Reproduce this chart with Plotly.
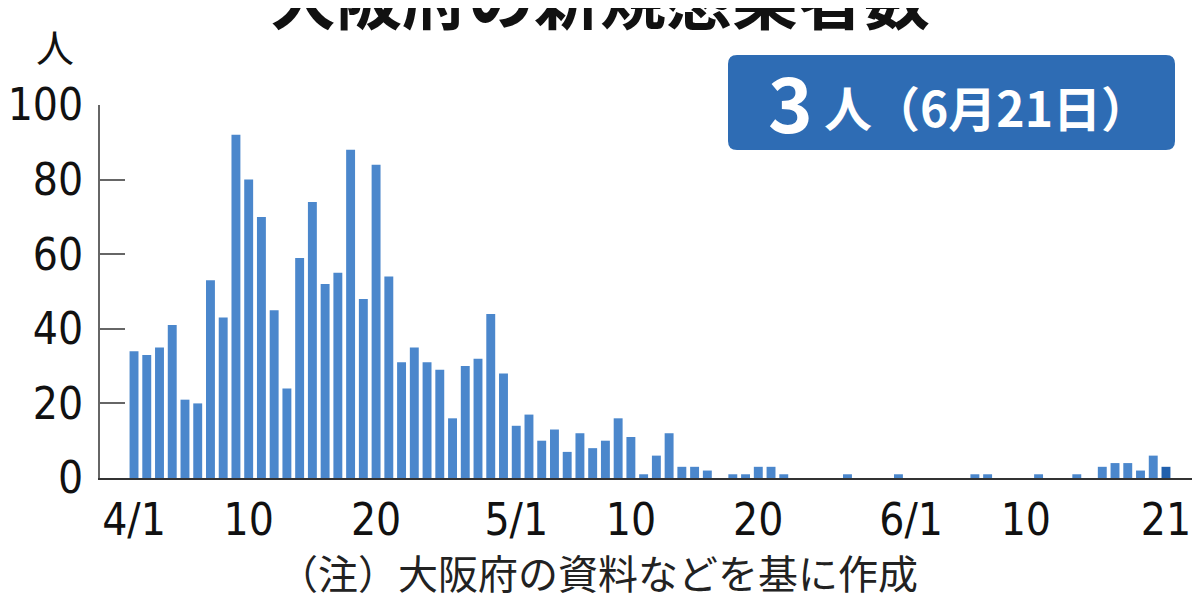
import pandas as pd
import plotly.graph_objects as go

# ---- data ----
april = [34, 33, 35, 41, 21, 20, 53, 43, 92, 80, 70, 45, 24, 59, 74, 52, 55, 88, 48, 84,
         54, 31, 35, 31, 29, 16, 30, 32, 44, 28]
may = [14, 17, 10, 13, 7, 12, 8, 10, 16, 11, 1, 6, 12, 3, 3, 2, 0, 1, 1, 3,
       3, 1, 0, 0, 0, 0, 1, 0, 0, 0, 1]
june = [0, 0, 0, 0, 0, 1, 1, 0, 0, 0, 1, 0, 0, 1, 0, 3, 4, 4, 2, 6, 3]
cases = april + may + june
dates = pd.date_range("2020-04-01", periods=len(cases), freq="D")

tick_dates = ["2020-04-01", "2020-04-10", "2020-04-20", "2020-05-01", "2020-05-10",
              "2020-05-20", "2020-06-01", "2020-06-10", "2020-06-21"]
tick_text = ["4/1", "10", "20", "5/1", "10", "20", "6/1", "10", "21"]
y_ticks = [0, 20, 40, 60, 80, 100]

title_text = "大阪府の新規感染者数"
unit_text = "人"
latest_value = "3"
latest_label = "人（6月21日）"
note_text = "（注）大阪府の資料などを基に作成"

# ---- styles ----
bar_color = "#4b87cc"
last_color = "#2160ad"
box_color = "#2e6cb4"
num_font = "Liberation Sans Narrow, Arial Narrow, DejaVu Sans Condensed, Liberation Sans, sans-serif"
jp_font = "Noto Sans CJK JP, sans-serif"

colors = [bar_color] * (len(cases) - 1) + [last_color]

fig = go.Figure(go.Bar(x=dates, y=cases, marker=dict(color=colors, line=dict(width=0))))

# page has an 8px body margin: figure is sized/offset to compensate
start = dates[0]
fig.update_layout(
    width=1192, height=592,
    margin=dict(l=92, r=0, t=97, b=122),
    paper_bgcolor="white", plot_bgcolor="white",
    bargap=0.3, showlegend=False,
    xaxis=dict(
        type="date", automargin=False,
        range=[start - pd.Timedelta(hours=2.67 * 24), start + pd.Timedelta(hours=83.67 * 24)],
        tickvals=tick_dates, ticktext=tick_text,
        showline=True, linecolor="#333", linewidth=2,
        ticks="", showgrid=False, zeroline=False,
        tickfont=dict(family=num_font, size=44, color="#111"),
        ticklabelstandoff=2,
    ),
    yaxis=dict(
        range=[0, 100], tickvals=y_ticks, automargin=False,
        showline=True, linecolor="#666", linewidth=2,
        ticks="inside", ticklen=25, tickwidth=2, tickcolor="#666",
        showgrid=False, zeroline=False,
        tickfont=dict(family=num_font, size=44, color="#111"),
        ticklabelstandoff=6,
    ),
)

# rounded box
x0, x1 = (728 - 100) / 1100, (1175 - 100) / 1100
y0, y1 = (478 - 150) / 373, (478 - 55) / 373
rx, ry = 9 / 1100, 9 / 373
path = (f"M {x0+rx},{y0} L {x1-rx},{y0} Q {x1},{y0} {x1},{y0+ry} "
        f"L {x1},{y1-ry} Q {x1},{y1} {x1-rx},{y1} L {x0+rx},{y1} "
        f"Q {x0},{y1} {x0},{y1-ry} L {x0},{y0+ry} Q {x0},{y0} {x0+rx},{y0} Z")
fig.add_shape(type="path", path=path, xref="paper", yref="paper",
              fillcolor=box_color, line=dict(width=0), layer="above")

def px_x(p):
    return (p - 100) / 1100

def px_y(p):
    return (478 - p) / 373

fig.add_annotation(text=f"<b>{title_text}</b>", xref="paper", yref="paper",
                   x=px_x(600), y=px_y(-5), xanchor="center", yanchor="middle",
                   showarrow=False, font=dict(family=jp_font, size=66, color="#111"))
fig.add_annotation(text=unit_text, xref="paper", yref="paper",
                   x=px_x(55), y=px_y(46), xanchor="center", yanchor="middle",
                   showarrow=False, font=dict(family=jp_font, size=38, color="#111"))
fig.add_annotation(text=f"<b>{latest_value}</b>", xref="paper", yref="paper",
                   x=px_x(790), y=px_y(100), xanchor="center", yanchor="middle",
                   showarrow=False, font=dict(family=jp_font, size=76, color="white"))
fig.add_annotation(text=f"<b>{latest_label}</b>", xref="paper", yref="paper",
                   x=px_x(986), y=px_y(106), xanchor="center", yanchor="middle",
                   showarrow=False, font=dict(family=jp_font, size=48, color="white"))
fig.add_annotation(text=note_text, xref="paper", yref="paper",
                   x=px_x(598), y=px_y(572), xanchor="center", yanchor="middle",
                   showarrow=False, font=dict(family=jp_font, size=40, color="#222"))

fig.write_html("out.html")
